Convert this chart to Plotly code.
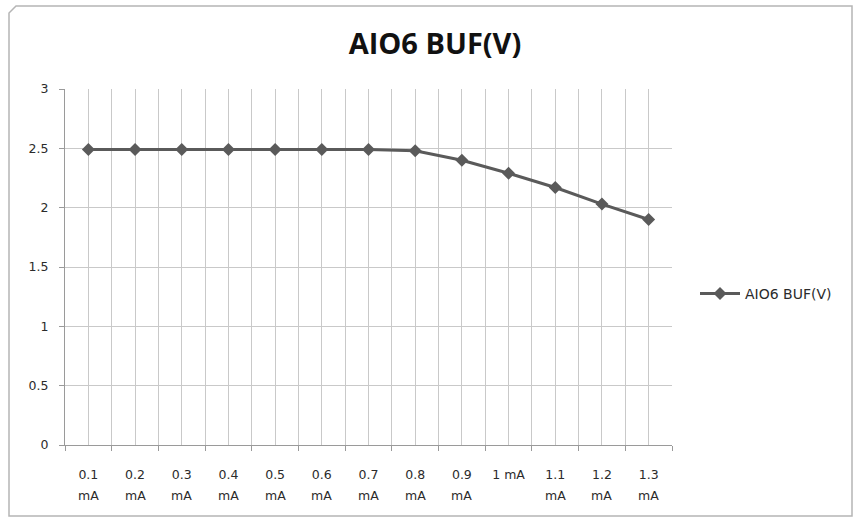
import plotly.graph_objects as go

categories = ["0.1 mA", "0.2 mA", "0.3 mA", "0.4 mA", "0.5 mA", "0.6 mA", "0.7 mA",
              "0.8 mA", "0.9 mA", "1 mA", "1.1 mA", "1.2 mA", "1.3 mA"]
values = [2.49, 2.49, 2.49, 2.49, 2.49, 2.49, 2.49, 2.48, 2.40, 2.29, 2.17, 2.03, 1.90]
series_name = "AIO6 BUF(V)"
y_ticks = [0, 0.5, 1, 1.5, 2, 2.5, 3]

xs = list(range(len(categories)))
first_lines = []
second_lines = []
for c in categories:
    num, unit = c.split(" ")
    if num == "1":
        first_lines.append(c)
        second_lines.append("")
    else:
        first_lines.append(num)
        second_lines.append(unit)

FONT = "DejaVu Sans"
TFONT = "Open Sans"
GRID = "#c9c9c9"
AXIS = "#9a9a9a"
LINE = "#5a5a5a"
TXT = "#2b2b2b"

fig = go.Figure()
fig.add_trace(go.Scatter(
    x=xs, y=values, name=series_name, mode="lines+markers",
    line=dict(color=LINE, width=3),
    marker=dict(symbol="diamond", size=10, color=LINE),
))

W, H = 857, 521
L, R, T, B = 65, 185, 89, 76
pw, ph = W - L - R, H - T - B

def px_x(p):
    return (p - L) / pw

def px_y(p):
    return (H - B - p) / ph

annotations = []
for x, s in zip(xs, second_lines):
    if s:
        annotations.append(dict(x=x, xref="x", y=px_y(495), yref="paper",
                                text=s, showarrow=False, yanchor="middle",
                                font=dict(family=FONT, size=12.5, color=TXT)))

fig.update_layout(
    width=W, height=H,
    margin=dict(l=L, r=R, t=T, b=B),
    paper_bgcolor="white", plot_bgcolor="white",
    title=dict(text="<b>AIO6 BUF(V)</b>", x=435 / W, xanchor="center",
               y=1 - 44 / H, yanchor="middle",
               font=dict(family=TFONT, size=29, color="#111111")),
    showlegend=True,
    legend=dict(x=px_x(695), y=px_y(294), xanchor="left", yanchor="middle",
                font=dict(family=FONT, size=14, color=TXT),
                bgcolor="rgba(0,0,0,0)", itemwidth=40),
    xaxis=dict(
        range=[-0.5, len(categories) - 0.5],
        tickmode="array", tickvals=xs, ticktext=first_lines,
        ticks="", showgrid=True, gridcolor=GRID, gridwidth=1,
        showline=True, linecolor=AXIS, linewidth=1,
        tickfont=dict(family=FONT, size=12.5, color=TXT),
        ticklabelstandoff=18,
        zeroline=False,
        minor=dict(tick0=-0.5, dtick=1, showgrid=True, gridcolor=GRID, gridwidth=1,
                   ticks="outside", ticklen=5, tickcolor=AXIS),
    ),
    yaxis=dict(
        range=[0, 3], tickmode="array", tickvals=y_ticks,
        ticktext=[f"{v:g}" for v in y_ticks],
        ticks="outside", ticklen=5, tickcolor=AXIS,
        showgrid=True, gridcolor=GRID, gridwidth=1,
        showline=True, linecolor=AXIS, linewidth=1,
        tickfont=dict(family=FONT, size=12.5, color=TXT),
        ticklabelstandoff=8,
        zeroline=False,
    ),
    annotations=annotations,
    shapes=[dict(type="path", xref="paper", yref="paper",
                 path=(f"M {px_x(16)},{px_y(6)} L {px_x(852)},{px_y(6)} "
                       f"L {px_x(852)},{px_y(516)} L {px_x(9)},{px_y(516)} "
                       f"L {px_x(9)},{px_y(13)} Z"),
                 line=dict(color="#b5b5b5", width=1.5), fillcolor="rgba(0,0,0,0)",
                 layer="below")],
)

fig.write_html("out.html", config={"displayModeBar": False},
               post_script="document.body.style.margin='0';")
